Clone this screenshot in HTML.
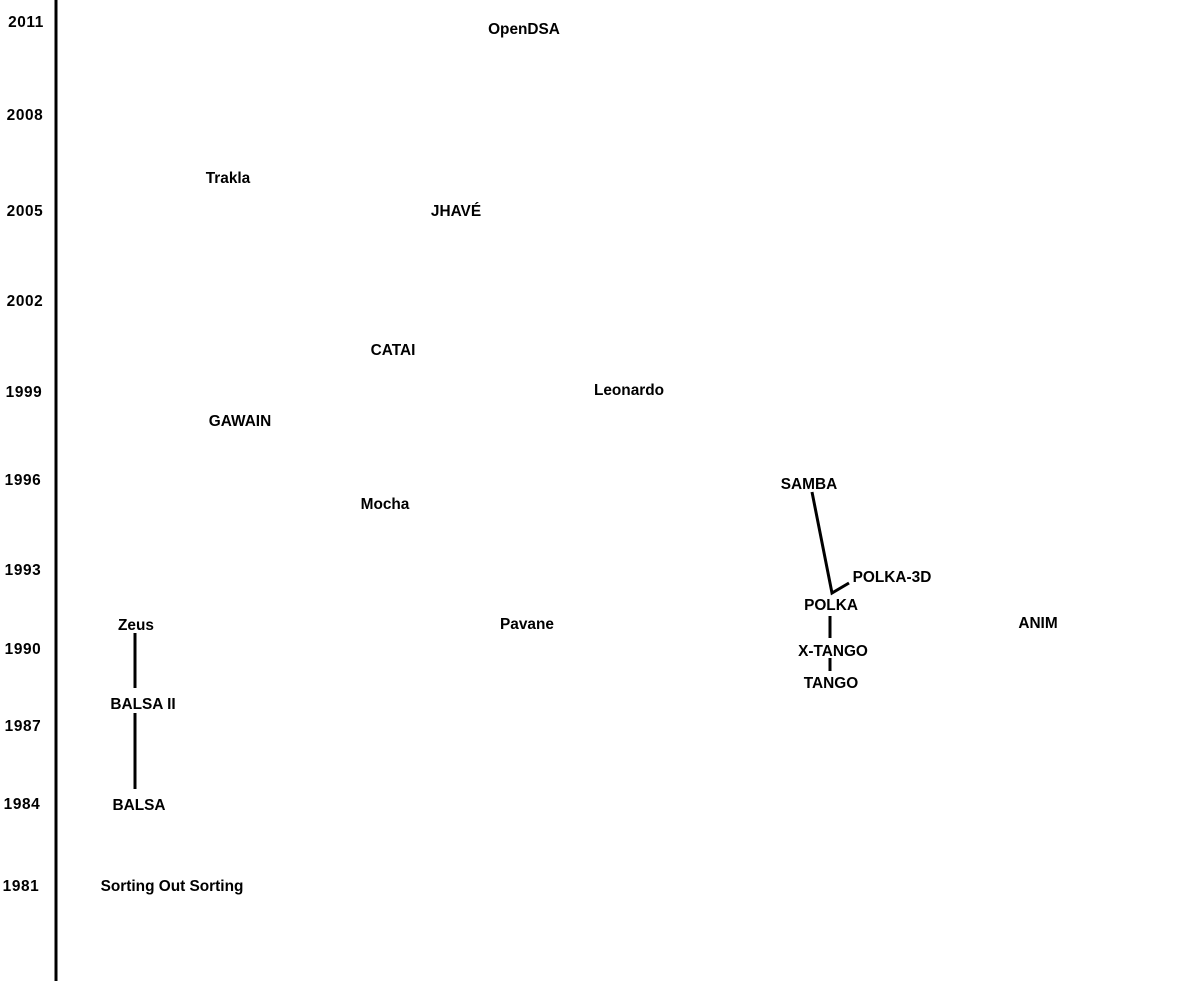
<!DOCTYPE html>
<html><head><style>body{margin:0;background:#fff}svg{display:block}text{font-family:"Liberation Sans",sans-serif;font-weight:bold;font-size:15.4px;fill:#000}</style></head><body>
<svg width="1200" height="981" xmlns="http://www.w3.org/2000/svg">
<line x1="56" y1="0" x2="56" y2="981" stroke="#000" stroke-width="3"/>
<g style="font-size:14px;letter-spacing:0.6px" text-anchor="middle">
<text x="26" y="27">2011</text><text x="25" y="120">2008</text><text x="25" y="216">2005</text><text x="25" y="306">2002</text><text x="24" y="397">1999</text><text x="23" y="485">1996</text><text x="23" y="575">1993</text><text x="23" y="654">1990</text><text x="23" y="731">1987</text><text x="22" y="809">1984</text><text x="21" y="891">1981</text>
</g>
<g text-anchor="middle">
<text x="524" y="34">OpenDSA</text><text x="228" y="183">Trakla</text><text x="456" y="216">JHAVÉ</text><text x="393" y="355">CATAI</text><text x="629" y="395">Leonardo</text><text x="240" y="426">GAWAIN</text><text x="809" y="489">SAMBA</text><text x="385" y="509">Mocha</text><text x="892" y="582">POLKA-3D</text><text x="831" y="610">POLKA</text><text x="136" y="630">Zeus</text><text x="527" y="629">Pavane</text><text x="1038" y="628">ANIM</text><text x="833" y="656">X-TANGO</text><text x="831" y="688">TANGO</text><text x="143" y="709">BALSA II</text><text x="139" y="810">BALSA</text><text x="172" y="891">Sorting Out Sorting</text>
</g>
<g stroke="#000" stroke-width="3" fill="none">
<line x1="135" y1="633" x2="135" y2="688"/><line x1="135" y1="713" x2="135" y2="789"/>
<polyline points="812,492 832,593 849,583"/>
<line x1="830" y1="616" x2="830" y2="638"/><line x1="830" y1="658" x2="830" y2="671"/>
</g>
</svg></body></html>
